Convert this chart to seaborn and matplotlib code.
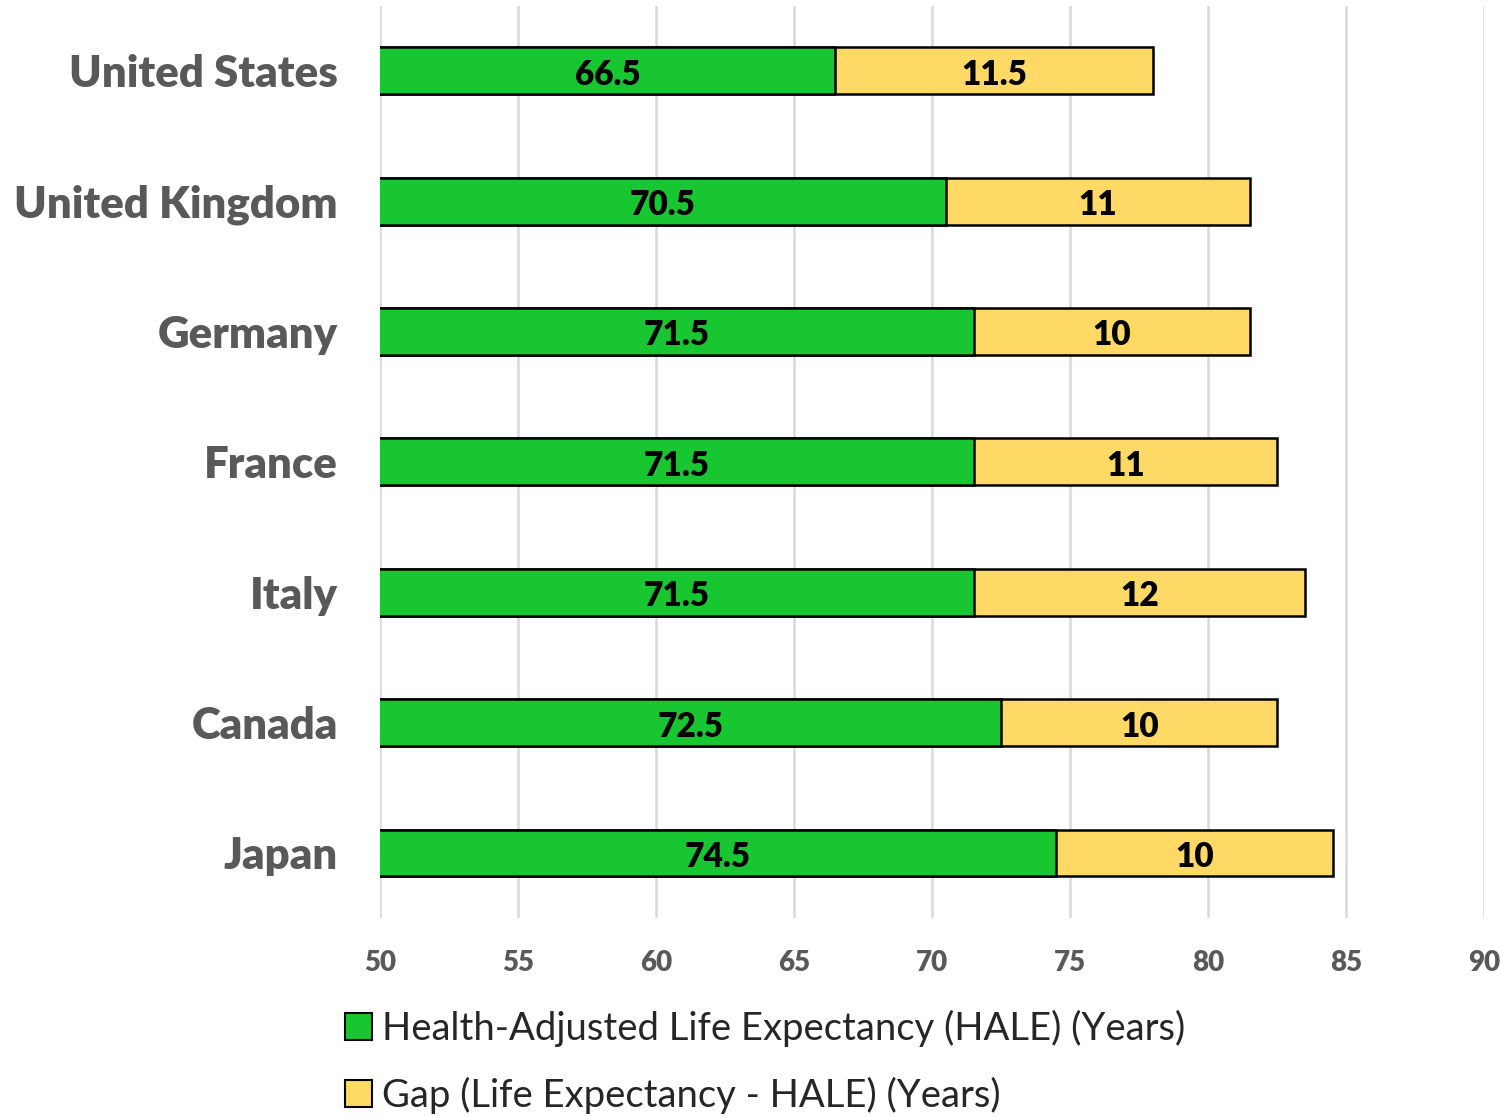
import pandas as pd
import matplotlib.pyplot as plt
import seaborn as sns
from matplotlib.patches import Patch

# values
countries = ['United States', 'United Kingdom', 'Germany', 'France', 'Italy', 'Canada', 'Japan']
hale = [66.5, 70.5, 71.5, 71.5, 71.5, 72.5, 74.5]
gap = [11.5, 11, 10, 11, 12, 10, 10]
x_ticks = [50, 55, 60, 65, 70, 75, 80, 85, 90]

hale_label = 'Health-Adjusted Life Expectancy (HALE) (Years)'
gap_label = 'Gap (Life Expectancy - HALE) (Years)'

green = '#17C630'
yellow = '#FED966'
grey_text = '#595959'

df = pd.DataFrame({'country': countries, 'hale': hale, 'gap': gap})
df['total'] = df['hale'] + df['gap']

sns.set_style('white')
plt.rcParams['font.family'] = ['Lato', 'DejaVu Sans']

fig = plt.figure(figsize=(15.01, 11.17), dpi=100)
ax = fig.add_axes([0.253, 0.178, 0.736, 0.817])

# stacked bars: the total drawn first in yellow, HALE on top in green
sns.barplot(data=df, x='total', y='country', orient='h', color=yellow,
            edgecolor='black', linewidth=1.8, width=0.36, ax=ax, saturation=1)
sns.barplot(data=df, x='hale', y='country', orient='h', color=green,
            edgecolor='black', linewidth=1.8, width=0.36, ax=ax, saturation=1)

ax.set_xlim(50, 90)
ax.set_xticks(x_ticks)
ax.set_xlabel('')
ax.set_ylabel('')
ax.grid(axis='x', color='#D9D9D9', linewidth=1.8)
ax.set_axisbelow(True)
for s in ax.spines.values():
    s.set_visible(False)
ax.tick_params(axis='both', length=0)
ax.tick_params(axis='x', pad=23)
ax.tick_params(axis='y', pad=30)

for lab in ax.get_xticklabels():
    lab.set_fontsize(20)
    lab.set_fontweight('heavy')
    lab.set_color(grey_text)
for lab in ax.get_yticklabels():
    lab.set_fontsize(31.5)
    lab.set_fontweight('heavy')
    lab.set_color(grey_text)

# value labels inside segments
for i, row in df.iterrows():
    ax.text((50 + row['hale']) / 2, i + 0.03, f"{row['hale']:g}", ha='center', va='center',
            fontsize=24, fontweight='heavy', color='black')
    ax.text(row['hale'] + row['gap'] / 2, i + 0.03, f"{row['gap']:g}", ha='center', va='center',
            fontsize=24, fontweight='heavy', color='black')

handles = [Patch(facecolor=green, edgecolor='black', linewidth=1.5, label=hale_label),
           Patch(facecolor=yellow, edgecolor='black', linewidth=1.5, label=gap_label)]
fig.legend(handles=handles, loc='upper left', bbox_to_anchor=(0.220, 0.110),
           frameon=False, fontsize=27.5, handlelength=0.7, handleheight=0.7,
           handletextpad=0.25, labelspacing=0.78, borderaxespad=0)

fig.savefig('out.png', dpi=100)
